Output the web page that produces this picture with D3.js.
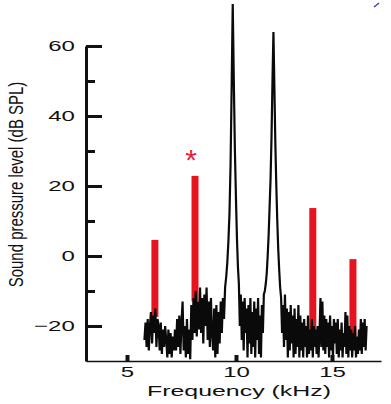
<!DOCTYPE html>
<html lang="en">
<head>
    <meta charset="utf-8">
    <title>Sound pressure spectrum</title>
    <script src="https://d3js.org/d3.v7.min.js"></script>
    <style>
        body { margin: 0; background: #fff; }
        text {
            font-family: "Liberation Sans", Arial, Helvetica, sans-serif;
            fill: #111;
        }
    </style>
</head>
<body>

<script>
    // axis ticks
    const yTicks = [60, 40, 20, 0, -20];
    const yMinorTicks = [50, 30, 10, -10];
    const xTicks = [5, 10, 15];

    // red bars (distortion products), kHz and dB SPL
    const barFreq = [6.28, 8.12, 14.0, 16.09];
    const barTop = [4.6, 22.9, 13.7, -0.9];
    const barBase = [-17.4, -13, -22, -23];

    // measured spectrum, one value every 0.05 kHz from 5.8 kHz
    const noiseStart = 5.8, noiseStep = 0.05;
    const level = [
        -24, -19, -26, -18, -27, -20,
        -16, -25, -17, -22, -15, -26, -18,
        -20, -27, -19, -28, -21, -26, -20,
        -24, -29, -21, -28, -22, -29, -23, -27, -21,
        -27, -18, -26, -17, -28, -19, -13,
        -27, -20, -29, -18, -28, -21, -29.5,
        -14, -24, -12, -22, -10, -23, -13, -21, -9,
        -22, -12, -25, -11, -20, -9, -24, -13, -26, -12, -22,
        -27, -15, -29, -14, -28, -16, -25, -13,
        -22, -12, -18,
        -9, -6, -2, 4, 12, 26, 48, 72, 50, 30, 16, 5, -3, -8,
        -20, -11, -24, -13, -27, -12, -22, -15, -29, -14, -25, -12, -28,
        -16, -26, -13, -29, -15, -24, -12, -28, -17, -29, -14, -22, -11,
        -10, -8, -5, 0, 6, 14, 22, 34, 50, 64, 48, 32, 20, 10, 2, -4, -9, -12,
        -22, -14, -26, -11, -24, -15, -29, -16, -27, -14, -25, -17, -29, -15, -28, -18, -26, -14, -29, -17,
        -27, -19, -29, -18, -26, -20, -29, -17, -28, -21, -27, -18, -29, -20, -26,
        -21, -28, -20, -29, -22,
        -12, -26, -13, -27,
        -17, -28, -18, -26, -19, -29, -17, -27, -20, -29, -18, -25,
        -19, -28, -18, -29, -21, -27, -19, -29, -22, -26,
        -16, -28, -17, -29, -20, -27,
        -21, -29, -22, -27, -20, -29, -23, -28, -21, -27,
        -18, -28, -19, -26, -18, -27, -20
    ];
    const spectrum = level.map((v, i) => ({f: noiseStart + i * noiseStep, v: v}));

    const width = 391, height = 404;

    const svg = d3.select("body").append("svg")
            .attr("width", width).attr("height", height);

    // frequency axis as printed is not quite even between its ticks
    const x = d3.scaleLinear()
            .domain([3.12, 5, 10, 15, 17.55])
            .range([86, 127, 236, 332, 381]);
    const y = d3.scaleLinear()
            .domain([-30, 60])
            .range([361, 46]);

    // bars
    svg.append("g").selectAll("rect")
        .data(barFreq)
        .join("rect")
        .attr("x", d => x(d) - 3.5)
        .attr("width", 7)
        .attr("y", (d, i) => y(barTop[i]))
        .attr("height", (d, i) => y(barBase[i]) - y(barTop[i]))
        .attr("fill", "#e5141e");

    // asterisk over the second bar
    svg.append("text")
        .attr("x", x(barFreq[1]) - 4)
        .attr("y", y(barTop[1]) - 6)
        .attr("text-anchor", "middle")
        .style("font-size", "30px")
        .style("fill", "#e8203a")
        .text("*");

    // spectrum trace
    const line = d3.line()
        .x(d => x(d.f))
        .y(d => y(d.v));

    svg.append("path")
        .datum(spectrum)
        .attr("d", line)
        .attr("fill", "none")
        .attr("stroke", "#0a0a0a")
        .attr("stroke-width", 2.2);

    // y axis, ticks pointing into the plot
    const yAxis = svg.append("g")
        .attr("transform", "translate(86,0)")
        .call(d3.axisLeft(y).tickValues(yTicks).tickSize(-16).tickSizeOuter(0).tickPadding(7));
    yAxis.select(".domain").attr("stroke", "#111").attr("stroke-width", 3);
    yAxis.selectAll(".tick line").attr("stroke", "#111").attr("stroke-width", 3);
    yAxis.selectAll(".tick text")
        .style("font-size", "15px")
        .attr("transform", "scale(1.6,1)");

    const yMinor = svg.append("g")
        .attr("transform", "translate(86,0)")
        .call(d3.axisLeft(y).tickValues(yMinorTicks).tickSize(-9).tickFormat(""));
    yMinor.select(".domain").remove();
    yMinor.selectAll(".tick line").attr("stroke", "#111").attr("stroke-width", 3);

    // x axis
    const xAxis = svg.append("g")
        .attr("transform", "translate(0,361)")
        .call(d3.axisBottom(x).tickValues(xTicks).tickSize(-6).tickSizeOuter(0).tickPadding(5));
    xAxis.select(".domain").attr("stroke", "#111").attr("stroke-width", 1.5);
    xAxis.selectAll(".tick line").attr("stroke", "#111").attr("stroke-width", 4);
    xAxis.selectAll(".tick text")
        .style("font-size", "15px")
        .attr("transform", "scale(1.6,1)");

    // titles
    svg.append("text")
        .attr("transform", "translate(239,396) scale(1.72,1)")
        .attr("text-anchor", "middle")
        .style("font-size", "14.5px")
        .text("Frequency (kHz)");

    svg.append("text")
        .attr("transform", "translate(23,184.5) rotate(-90) scale(1,1.3)")
        .attr("text-anchor", "middle")
        .style("font-size", "15px")
        .text("Sound pressure level (dB SPL)");

    // small blue mark in the top right corner
    svg.append("path")
        .attr("d", "M374,7L379,3")
        .attr("stroke", "#3344aa")
        .attr("stroke-width", 1.5);
</script>

</body>
</html>
